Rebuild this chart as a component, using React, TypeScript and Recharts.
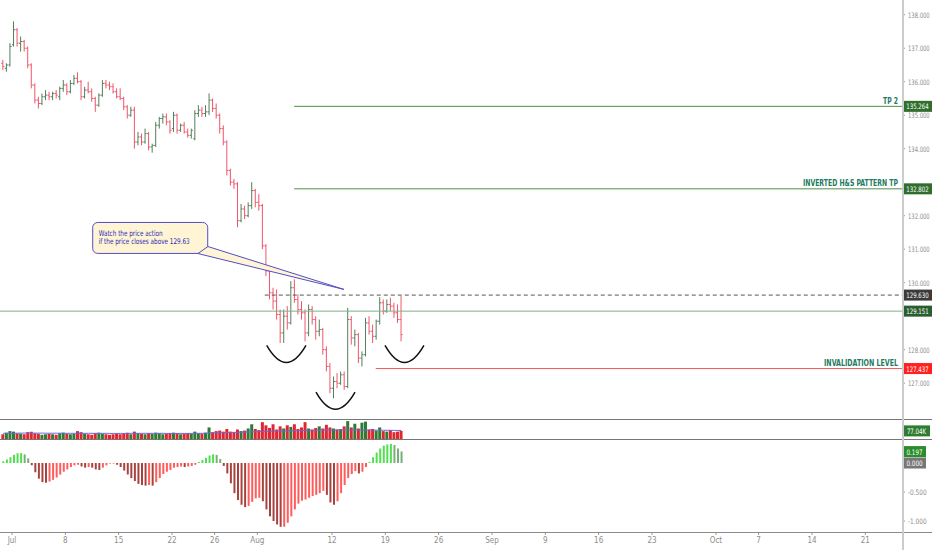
import React from "react";
import {
  ComposedChart,
  Bar,
  Line,
  XAxis,
  YAxis,
  ReferenceLine,
  ReferenceArea,
  Cell,
} from "recharts";

// 3 sessions per trading day, day 0 = Mon 1 Jul
const FIRST_DAY = -1;
const BARS_PER_DAY = 3;
const X_MIN = -1.125;
const X_MAX = 83.44;

const PRICE_MIN = 125.931;
const PRICE_MAX = 138.439;
const VOL_MAX = 190;
const OSC_MIN = -1.19;
const OSC_MAX = 0.397;

const opens = [
  136.55, 136.4, 136.5, 137.1, 137.55, 137.15, 137.2, 137.0, 136.5, 135.9,
  135.45, 135.35, 135.55, 135.6, 135.55, 135.65, 135.55, 135.8, 135.9, 135.7,
  135.95, 136.1, 136.0, 135.55, 135.75, 135.7, 135.5, 135.3, 135.6, 135.95,
  135.9, 135.85, 135.7, 135.55, 135.5, 135.25, 135.0, 135.15, 134.2, 134.35,
  134.2, 134.45, 134.05, 134.1, 134.7, 134.9, 134.95, 134.8, 134.6, 135.0,
  134.55, 134.7, 134.5, 134.4, 134.3, 135.05, 135.15, 135.05, 135.1, 135.45,
  135.2, 135.0, 134.6, 134.2, 133.35, 133.0, 132.95, 131.85, 132.2, 132.0,
  132.3, 132.75, 132.4, 132.3, 131.1, 130.35, 129.7, 129.45, 129.05, 128.5,
  129.0, 128.8, 129.85, 129.5, 129.2, 129.1, 128.5, 129.2, 128.9, 128.55,
  128.6, 128.0, 127.5, 126.85, 127.05, 127.0, 127.25, 126.9, 128.9, 128.35,
  128.45, 127.75, 127.85, 128.8, 128.55, 128.4, 128.85, 129.4, 129.15, 129.35,
  129.3, 129.1, 128.9,
];
const highs = [
  136.65, 136.55, 137.15, 137.8, 137.6, 137.35, 137.25, 137.05, 136.55, 135.95,
  135.55, 135.65, 135.75, 135.7, 135.7, 135.75, 135.85, 136.05, 135.95, 136.05,
  136.2, 136.28, 136.05, 135.85, 136.0, 135.8, 135.55, 135.65, 136.05, 136.05,
  136.0, 135.95, 135.8, 135.8, 135.55, 135.3, 135.25, 135.25, 134.5, 134.45,
  134.6, 134.5, 134.15, 134.8, 134.95, 135.05, 135.05, 134.85, 135.1, 135.05,
  134.75, 134.8, 134.6, 134.6, 135.15, 135.3, 135.25, 135.3, 135.65, 135.5,
  135.35, 135.05, 134.7, 134.25, 133.4, 133.1, 133.0, 132.35, 132.3, 132.4,
  133.0, 132.8, 132.65, 132.35, 131.15, 130.4, 129.85, 129.8, 129.2, 129.2,
  129.3, 130.05, 130.1, 129.65, 129.45, 129.2, 129.35, 129.3, 129.0, 128.9,
  128.65, 128.1, 127.6, 127.2, 127.3, 127.35, 127.35, 129.25, 129.0, 128.6,
  128.5, 127.95, 128.95, 129.0, 128.75, 128.9, 129.57, 129.5, 129.5, 129.55,
  129.4, 129.35, 129.6,
];
const lows = [
  136.35, 136.3, 136.45, 137.05, 137.05, 136.9, 136.9, 136.4, 135.8, 135.35,
  135.2, 135.3, 135.45, 135.45, 135.45, 135.5, 135.45, 135.7, 135.6, 135.65,
  135.9, 135.95, 135.45, 135.5, 135.65, 135.4, 135.1, 135.25, 135.55, 135.8,
  135.75, 135.65, 135.5, 135.45, 135.15, 134.9, 134.95, 134.0, 134.1, 134.1,
  134.15, 133.95, 133.88, 134.05, 134.6, 134.75, 134.7, 134.45, 134.5, 134.45,
  134.5, 134.45, 134.33, 134.3, 134.25, 134.95, 134.95, 134.95, 135.0, 135.1,
  134.9, 134.45, 134.1, 133.2, 132.9, 132.8, 131.65, 131.8, 131.9, 131.95,
  132.2, 132.25, 132.15, 131.0, 130.2, 129.5, 129.2, 128.9, 128.2, 128.2,
  128.6, 128.75, 129.4, 129.05, 128.9, 128.25, 128.4, 128.75, 128.3, 128.4,
  127.85, 127.35, 126.7, 126.55, 126.85, 126.95, 126.8, 126.85, 128.15, 128.1,
  127.6, 127.5, 127.8, 128.45, 128.2, 128.3, 128.75, 129.05, 129.1, 129.15,
  128.95, 128.8, 128.25,
];
const closes = [
  136.45, 136.5, 137.05, 137.55, 137.15, 137.2, 137.0, 136.5, 135.9, 135.45,
  135.35, 135.55, 135.6, 135.55, 135.65, 135.6, 135.8, 135.9, 135.7, 135.95,
  136.1, 136.0, 135.55, 135.75, 135.7, 135.5, 135.3, 135.6, 135.95, 135.9,
  135.85, 135.7, 135.55, 135.5, 135.25, 135.0, 135.15, 134.2, 134.35, 134.2,
  134.45, 134.05, 134.1, 134.7, 134.9, 134.95, 134.8, 134.55, 135.0, 134.55,
  134.7, 134.5, 134.4, 134.55, 135.05, 135.15, 135.05, 135.1, 135.45, 135.2,
  135.0, 134.6, 134.2, 133.35, 133.0, 132.95, 131.85, 132.2, 132.0, 132.3,
  132.75, 132.4, 132.3, 131.1, 130.35, 129.7, 129.45, 129.05, 128.5, 129.0,
  128.8, 129.85, 129.5, 129.2, 129.1, 128.5, 129.2, 128.9, 128.55, 128.6,
  128.0, 127.5, 126.85, 127.05, 127.0, 127.25, 126.9, 128.9, 128.35, 128.45,
  127.75, 127.85, 128.8, 128.55, 128.4, 128.85, 129.4, 129.15, 129.35, 129.3,
  129.1, 128.9, 128.45,
];

// volume in thousands
const volumes = [
  45, 60, 75, 70, 55, 50, 45, 65, 70, 55,
  50, 40, 45, 50, 45, 40, 55, 60, 50, 45,
  50, 75, 65, 50, 45, 40, 55, 60, 50, 45,
  40, 45, 50, 45, 50, 60, 45, 70, 55, 50,
  45, 55, 50, 60, 55, 45, 50, 55, 60, 55,
  45, 50, 55, 50, 70, 55, 50, 60, 110, 65,
  75, 80, 70, 95, 70, 65, 90, 75, 80, 100,
  140, 95, 85, 160, 130, 105, 140, 90, 120, 100,
  130, 115, 140, 95, 110, 160, 100, 90, 105, 120,
  100, 135, 110, 100, 90, 95, 120, 170, 110, 145,
  100, 155, 165, 90, 95, 80, 110, 75, 70, 85,
  65, 70, 77,
];
const volumeMa = [
  54, 54, 55, 55, 55, 56, 56, 56, 56, 56,
  56, 56, 55, 55, 55, 55, 55, 55, 54, 54,
  54, 54, 54, 54, 54, 54, 54, 54, 54, 54,
  53, 53, 53, 53, 53, 53, 54, 54, 54, 54,
  54, 54, 54, 54, 54, 54, 53, 53, 53, 53,
  53, 53, 53, 53, 54, 54, 54, 55, 56, 57,
  58, 59, 60, 61, 62, 63, 64, 65, 66, 67,
  68, 69, 70, 71, 72, 73, 74, 75, 76, 77,
  78, 79, 80, 80, 81, 82, 82, 83, 83, 84,
  84, 85, 85, 85, 86, 86, 86, 86, 86, 86,
  86, 86, 86, 85, 85, 84, 84, 83, 83, 82,
  82, 81, 81,
];
const oscillator = [
  0.03, 0.06, 0.1, 0.14, 0.17, 0.17, 0.15, 0.08, -0.04, -0.16,
  -0.27, -0.33, -0.34, -0.32, -0.29, -0.25, -0.2, -0.15, -0.11, -0.07,
  -0.04, -0.03, -0.06, -0.08, -0.07, -0.08, -0.11, -0.12, -0.08, -0.04,
  -0.01, -0.01, -0.03, -0.07, -0.13, -0.2, -0.26, -0.31, -0.36, -0.38,
  -0.39, -0.38, -0.39, -0.33, -0.26, -0.19, -0.15, -0.12, -0.08, -0.07,
  -0.06, -0.07, -0.06, -0.05, -0.03, 0.02, 0.05, 0.09, 0.13, 0.15,
  0.14, 0.07, -0.05, -0.18, -0.35, -0.52, -0.64, -0.72, -0.76, -0.74,
  -0.67, -0.61, -0.6, -0.66, -0.8, -0.92, -1.0, -1.06, -1.1, -1.1,
  -1.03, -0.92, -0.8, -0.7, -0.65, -0.63, -0.6, -0.57, -0.55, -0.52,
  -0.48, -0.55, -0.68, -0.72, -0.66, -0.52, -0.38, -0.26, -0.19, -0.14,
  -0.18, -0.15, -0.07, 0.02, 0.1, 0.18, 0.25, 0.3, 0.32, 0.33,
  0.31, 0.25, 0.2,
];

const dateTicks = [0, 5, 10, 15, 19, 23, 30, 35, 40, 45, 50, 55, 60, 66, 70, 75, 80];
const dateLabels = ["Jul", "8", "15", "22", "26", "Aug", "12", "19", "26", "Sep", "9", "16", "23", "Oct", "7", "14", "21"];
const priceTicks = [126, 127, 128, 130, 131, 132, 134, 135, 136, 137, 138];
const oscTicks = [-1, -0.5];

const UP = "#52805c";
const DOWN = "#f0566a";
const AXIS_FONT = "'Liberation Sans Narrow', 'DejaVu Sans Condensed', 'Liberation Sans', sans-serif";
const NOTE_FONT = "'DejaVu Sans Condensed', 'Liberation Sans Narrow', sans-serif";

const rows = opens.map((o, i) => ({
  t: FIRST_DAY + (i + 0.5) / BARS_PER_DAY,
  open: o,
  high: highs[i],
  low: lows[i],
  close: closes[i],
  hl: [lows[i], highs[i]],
  vol: volumes[i],
  volMa: volumeMa[i],
  osc: oscillator[i],
}));

function OhlcShape(props: any) {
  const { x, y, width, height, payload } = props;
  if (x == null || !payload) return null;
  const top = Math.min(y, y + height);
  const span = Math.abs(height);
  const cx = x + width / 2;
  const range = payload.high - payload.low || 1;
  const yOpen = top + ((payload.high - payload.open) / range) * span;
  const yClose = top + ((payload.high - payload.close) / range) * span;
  const color = payload.close >= payload.open ? UP : DOWN;
  return (
    <g stroke={color} strokeWidth={1}>
      <line x1={cx} x2={cx} y1={top} y2={top + span} />
      <line x1={cx - 1.6} x2={cx} y1={yOpen} y2={yOpen} />
      <line x1={cx} x2={cx + 1.6} y1={yClose} y2={yClose} />
    </g>
  );
}

// right-scale tick: narrow text squeezed into the scale column
function ScaleTick(props: any) {
  const { x, y, payload } = props;
  const label = payload.value.toFixed(3);
  return (
    <text
      x={x}
      y={y + 3}
      fill="#8c8c8c"
      fontSize={7.5}
      fontFamily={AXIS_FONT}
      textLength={label.length * 3.1}
      lengthAdjust="spacingAndGlyphs"
    >
      {label}
    </text>
  );
}

function PriceTag(props: any) {
  const { viewBox, text, bg, note, boxWidth = 29, noteWidth } = props;
  if (!viewBox) return null;
  const right = viewBox.x + viewBox.width;
  const y = viewBox.y;
  return (
    <g>
      {note && (
        <text
          x={right - 4}
          y={y - 2.5}
          textAnchor="end"
          fill="#237a62"
          fontSize={8.5}
          fontWeight={700}
          fontFamily={NOTE_FONT}
          textLength={noteWidth}
          lengthAdjust="spacingAndGlyphs"
        >
          {note}
        </text>
      )}
      <rect x={right + 1} y={y - 5.5} width={boxWidth} height={11} fill={bg} />
      <text
        x={right + 1 + boxWidth / 2}
        y={y + 3}
        textAnchor="middle"
        fill="#ffffff"
        fontSize={7.5}
        fontFamily={AXIS_FONT}
        textLength={text.length * 3.2}
        lengthAdjust="spacingAndGlyphs"
      >
        {text}
      </text>
    </g>
  );
}

function Arc(props: any) {
  const { x, y, width, height } = props;
  return (
    <path
      d={`M${x},${y} Q${x + width / 2},${y + 2 * height} ${x + width},${y}`}
      fill="none"
      stroke="#111111"
      strokeWidth={1.5}
    />
  );
}

function Callout(props: any) {
  const { x, y, width, height } = props;
  return (
    <g>
      <rect
        x={x}
        y={y}
        width={width}
        height={height}
        rx={5}
        fill="#fff4d4"
        stroke="#4f4fc9"
        strokeWidth={1}
      />
      <text x={x + 6} y={y + 13.5} fontSize={7.8} fill="#2a2ab5" fontFamily={AXIS_FONT} textLength={64} lengthAdjust="spacingAndGlyphs">
        Watch the price action
      </text>
      <text x={x + 6} y={y + 22} fontSize={7.8} fill="#2a2ab5" fontFamily={AXIS_FONT} textLength={91} lengthAdjust="spacingAndGlyphs">
        if the price closes above 129.63
      </text>
    </g>
  );
}

function Pointer(props: any) {
  const { x1, y1, x2, y2 } = props;
  if (x1 == null) return null;
  return (
    <polygon
      points={`${x1 - 5},${y1 + 3} ${x1 + 5},${y1 - 4} ${x2},${y2}`}
      fill="#fff4d4"
      stroke="#4f4fc9"
      strokeWidth={1}
    />
  );
}

const axisTick = { fill: "#8c8c8c", fontSize: 8, fontFamily: AXIS_FONT };

export default function App() {
  return (
    <div
      style={{
        position: "absolute",
        left: 0,
        top: 0,
        width: 932,
        height: 550,
        background: "#ffffff",
        overflow: "hidden",
        fontFamily: AXIS_FONT,
      }}
    >
      {/* price pane */}
      <div style={{ position: "absolute", left: 0, top: 0 }}>
        <ComposedChart width={932} height={419} data={rows} margin={{ top: 0, right: 0, bottom: 0, left: 0 }}>
          <XAxis type="number" dataKey="t" domain={[X_MIN, X_MAX]} hide allowDataOverflow />
          <YAxis
            orientation="right"
            width={30}
            domain={[PRICE_MIN, PRICE_MAX]}
            ticks={priceTicks}
            allowDataOverflow
            axisLine={false}
            tickLine={{ stroke: "#9a9a9a" }}
            tickSize={3}
            tickMargin={3}
            tick={<ScaleTick />}
          />
          <ReferenceLine
            y={129.151}
            stroke="#7fb08a"
            strokeWidth={1}
            label={<PriceTag text="129.151" bg="#2b5e2f" />}
          />
          <ReferenceLine
            segment={[{ x: 23.7, y: 129.63 }, { x: X_MAX, y: 129.63 }]}
            stroke="#555555"
            strokeDasharray="4 3"
            label={<PriceTag text="129.630" bg="#3b3b3b" />}
          />
          <ReferenceLine
            segment={[{ x: 26.45, y: 135.264 }, { x: X_MAX, y: 135.264 }]}
            stroke="#4f8f46"
            label={<PriceTag text="135.264" bg="#2f6e2c" note="TP 2" noteWidth={15} />}
          />
          <ReferenceLine
            segment={[{ x: 26.45, y: 132.802 }, { x: X_MAX, y: 132.802 }]}
            stroke="#4f8f46"
            label={<PriceTag text="132.802" bg="#2f6e2c" note="INVERTED H&S PATTERN TP" noteWidth={95} />}
          />
          <ReferenceLine
            segment={[{ x: 34.1, y: 127.437 }, { x: X_MAX, y: 127.437 }]}
            stroke="#f05a5a"
            label={<PriceTag text="127.437" bg="#ff2020" note="INVALIDATION LEVEL" noteWidth={74} />}
          />
          <ReferenceLine
            segment={[{ x: 17.9, y: 130.96 }, { x: 31.12, y: 129.8 }]}
            shape={<Pointer />}
          />
          <ReferenceArea x1={7.566} x2={18.35} y1={130.874} y2={131.798} shape={<Callout />} />
          <ReferenceArea x1={23.88} x2={27.56} y1={127.62} y2={128.13} shape={<Arc />} />
          <ReferenceArea x1={28.5} x2={32.16} y1={126.22} y2={126.73} shape={<Arc />} />
          <ReferenceArea x1={34.97} x2={38.62} y1={127.62} y2={128.13} shape={<Arc />} />
          <Bar dataKey="hl" barSize={3} shape={<OhlcShape />} isAnimationActive={false} />
        </ComposedChart>
      </div>

      {/* volume pane */}
      <div style={{ position: "absolute", left: 0, top: 419 }}>
        <ComposedChart width={932} height={20} data={rows} margin={{ top: 0, right: 0, bottom: 0, left: 0 }}>
          <XAxis type="number" dataKey="t" domain={[X_MIN, X_MAX]} hide allowDataOverflow />
          <YAxis orientation="right" width={30} domain={[0, VOL_MAX]} tick={false} axisLine={false} tickLine={false} allowDataOverflow />
          <Bar dataKey="vol" barSize={3} isAnimationActive={false}>
            {rows.map((r, i) => (
              <Cell key={i} fill={r.close >= r.open ? "#2f7a34" : "#e0272f"} />
            ))}
          </Bar>
          <Line dataKey="volMa" stroke="#6a6ad8" strokeWidth={1} dot={false} isAnimationActive={false} />
          <ReferenceLine y={77.04} stroke="none" label={<PriceTag text="77.04K" bg="#2f7d32" boxWidth={27} />} />
        </ComposedChart>
      </div>

      {/* oscillator pane + time axis */}
      <div style={{ position: "absolute", left: 0, top: 440 }}>
        <ComposedChart width={932} height={110} data={rows} margin={{ top: 0, right: 0, bottom: 0, left: 0 }}>
          <XAxis
            type="number"
            dataKey="t"
            domain={[X_MIN, X_MAX]}
            allowDataOverflow
            ticks={dateTicks}
            interval={0}
            height={18}
            axisLine={false}
            tickLine={{ stroke: "#9a9a9a" }}
            tickSize={3}
            tickMargin={2}
            tick={axisTick}
            tickFormatter={(v: number) => dateLabels[dateTicks.indexOf(v)] ?? ""}
          />
          <YAxis
            orientation="right"
            width={30}
            domain={[OSC_MIN, OSC_MAX]}
            ticks={oscTicks}
            allowDataOverflow
            axisLine={false}
            tickLine={{ stroke: "#9a9a9a" }}
            tickSize={3}
            tickMargin={3}
            tick={<ScaleTick />}
          />
          <Bar dataKey="osc" barSize={2} isAnimationActive={false}>
            {rows.map((r, i) => {
              const prev = i > 0 ? rows[i - 1].osc : r.osc;
              const rising = r.osc >= prev;
              const fill = r.osc >= 0 ? (rising ? "#4ee04e" : "#79ad79") : rising ? "#ff5c5c" : "#a8423f";
              return <Cell key={i} fill={fill} />;
            })}
          </Bar>
          <ReferenceLine y={0.197} stroke="none" label={<PriceTag text="0.197" bg="#2a8c2a" boxWidth={23} />} />
          <ReferenceLine y={0} stroke="none" label={<PriceTag text="0.000" bg="#777777" boxWidth={23} />} />
        </ComposedChart>
      </div>

      {/* pane borders and price-scale edge */}
      <div style={{ position: "absolute", left: 0, top: 419, width: 932, height: 1, background: "#767676" }} />
      <div style={{ position: "absolute", left: 0, top: 439, width: 932, height: 1, background: "#767676" }} />
      <div style={{ position: "absolute", left: 0, top: 532, width: 932, height: 1, background: "#8a8a8a" }} />
      <div style={{ position: "absolute", left: 902, top: 0, width: 1.5, height: 550, background: "#cccccc" }} />
    </div>
  );
}
